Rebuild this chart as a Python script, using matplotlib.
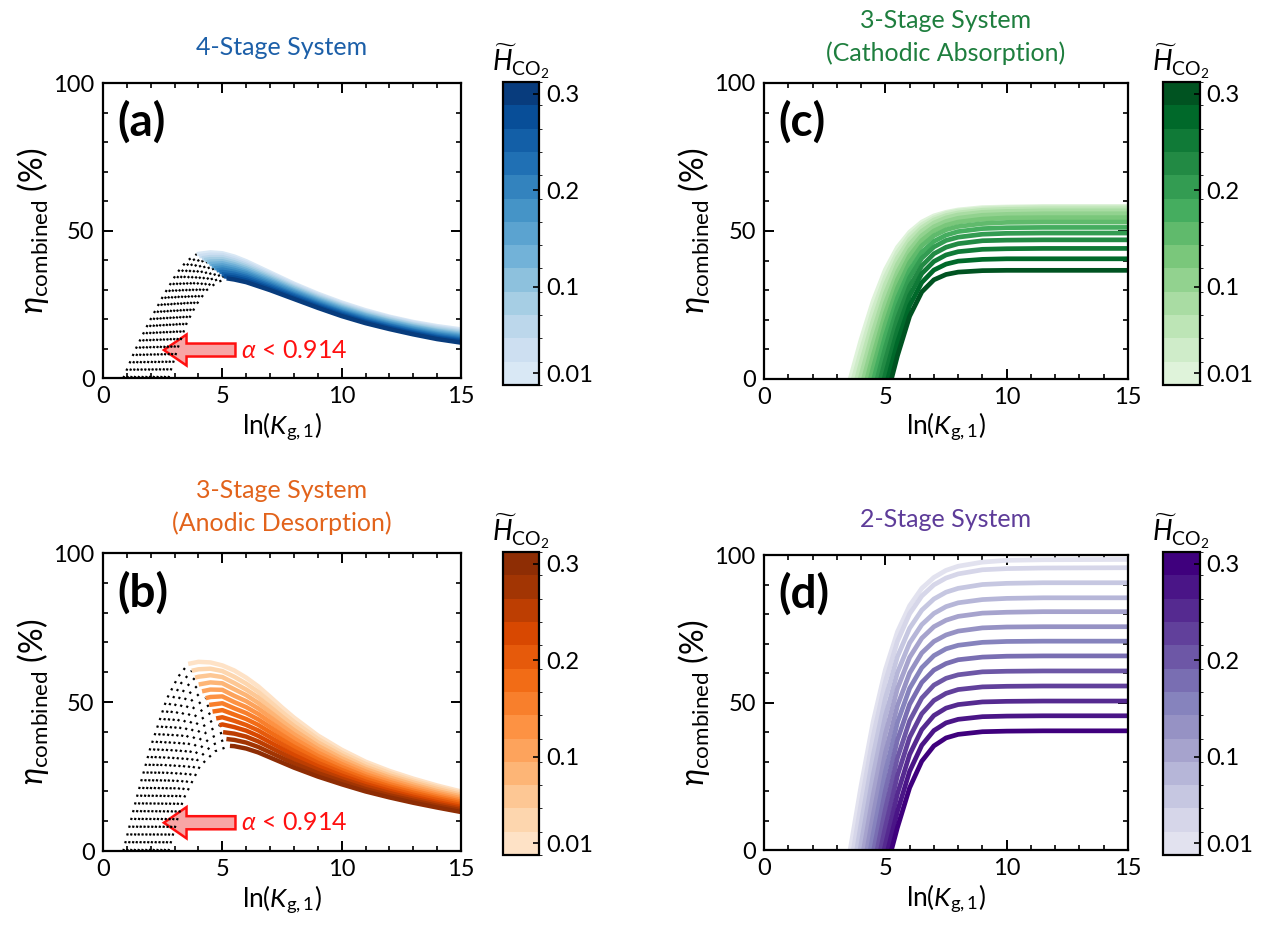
import numpy as np
import matplotlib
matplotlib.use('Agg')
import matplotlib.pyplot as plt
from matplotlib.colors import ListedColormap, BoundaryNorm
from matplotlib.cm import ScalarMappable
from matplotlib.ticker import MultipleLocator

plt.rcParams.update({
    'font.family': 'Lato',
    'mathtext.fontset': 'custom',
    'mathtext.rm': 'Lato',
    'mathtext.it': 'Lato:italic',
    'mathtext.bf': 'Lato:bold',
    'mathtext.fallback': 'stixsans',
    'font.size': 16,
    'axes.linewidth': 1.6,
})

nan = float('nan')

# dimensionless CO2 Henry constant, one curve per value
H_co2 = [0.01, 0.0342, 0.0583, 0.0825, 0.1067, 0.1308, 0.155,
         0.1792, 0.2033, 0.2275, 0.2517, 0.2758, 0.3]
cbar_ticks = [0.01, 0.1, 0.2, 0.3]
cbar_ticklabels = ['0.01', '0.1', '0.2', '0.3']

# ---- (a) 4-stage: dotted part (alpha < 0.914), last point = start of solid part
a_dot_x = [
    [0.85, 1.35, 1.90, 2.50, 3.09, 3.50, 3.93],
    [1.01, 1.50, 2.03, 2.62, 3.19, 3.60, 4.03],
    [1.17, 1.64, 2.17, 2.73, 3.30, 3.71, 4.14],
    [1.32, 1.79, 2.30, 2.85, 3.40, 3.81, 4.24],
    [1.48, 1.93, 2.43, 2.97, 3.51, 3.92, 4.35],
    [1.64, 2.08, 2.57, 3.08, 3.61, 4.02, 4.45],
    [1.80, 2.23, 2.70, 3.20, 3.72, 4.13, 4.55],
    [1.95, 2.37, 2.83, 3.32, 3.82, 4.23, 4.66],
    [2.11, 2.52, 2.97, 3.43, 3.92, 4.33, 4.76],
    [2.27, 2.66, 3.10, 3.55, 4.03, 4.44, 4.87],
    [2.43, 2.81, 3.23, 3.67, 4.13, 4.54, 4.97],
    [2.58, 2.95, 3.37, 3.78, 4.24, 4.65, 5.07],
    [2.74, 3.10, 3.50, 3.90, 4.34, 4.75, 5.18],
]
a_dot_y = [
    [0, 9.5, 18.5, 27.5, 35.5, 39.6, 42.0],
    [0, 9.5, 18.5, 27.3, 35.0, 39.0, 41.3],
    [0, 9.5, 18.5, 27.05, 34.55, 38.4, 40.6],
    [0, 9.5, 18.5, 26.8, 34.1, 37.8, 40.0],
    [0, 9.5, 18.5, 26.6, 33.6, 37.2, 39.3],
    [0, 9.5, 18.5, 26.4, 33.1, 36.6, 38.6],
    [0, 9.5, 18.5, 26.15, 32.65, 36.0, 37.9],
    [0, 9.5, 18.5, 25.9, 32.2, 35.35, 37.2],
    [0, 9.5, 18.5, 25.7, 31.7, 34.7, 36.5],
    [0, 9.5, 18.5, 25.5, 31.2, 34.1, 35.9],
    [0, 9.5, 18.5, 25.25, 30.75, 33.5, 35.2],
    [0, 9.5, 18.5, 25.0, 30.3, 32.9, 34.5],
    [0, 9.5, 18.5, 24.8, 29.8, 32.3, 33.8],
]
a_x = [4.5, 5.0, 5.5, 6, 7, 8, 9, 10, 11, 12, 13, 14, 15]
a_eta = [
    [42.6, 42.3, 41.2, 39.6, 35.8, 32.0, 28.6, 25.6, 23.0, 20.8, 19.0, 17.6, 16.5],
    [41.8, 41.7, 40.55, 39.0, 35.3, 31.6, 28.2, 25.2, 22.6, 20.5, 18.7, 17.2, 16.1],
    [41.0, 41.0, 39.9, 38.4, 34.8, 31.1, 27.8, 24.8, 22.3, 20.1, 18.3, 16.9, 15.75],
    [40.3, 40.3, 39.25, 37.8, 34.3, 30.7, 27.4, 24.5, 21.9, 19.8, 18.0, 16.5, 15.4],
    [39.5, 39.6, 38.6, 37.2, 33.8, 30.3, 27.0, 24.1, 21.5, 19.4, 17.6, 16.1, 15.0],
    [38.7, 38.9, 37.95, 36.6, 33.3, 29.8, 26.6, 23.7, 21.2, 19.1, 17.3, 15.8, 14.6],
    [nan, 38.2, 37.3, 36.0, 32.8, 29.4, 26.2, 23.3, 20.8, 18.7, 16.9, 15.4, 14.25],
    [nan, 37.5, 36.65, 35.5, 32.3, 29.0, 25.8, 22.9, 20.4, 18.4, 16.6, 15.0, 13.9],
    [nan, 36.8, 36.0, 34.9, 31.8, 28.5, 25.4, 22.5, 20.1, 18.0, 16.2, 14.7, 13.5],
    [nan, 36.0, 35.35, 34.3, 31.3, 28.1, 25.0, 22.2, 19.7, 17.7, 15.9, 14.3, 13.1],
    [nan, nan, 34.7, 33.7, 30.8, 27.7, 24.6, 21.8, 19.3, 17.3, 15.5, 13.9, 12.75],
    [nan, nan, 34.05, 33.1, 30.3, 27.2, 24.2, 21.4, 19.0, 17.0, 15.2, 13.6, 12.4],
    [nan, nan, 33.4, 32.5, 29.8, 26.8, 23.8, 21.0, 18.6, 16.6, 14.8, 13.2, 12.0],
]

# ---- (b) 3-stage, anodic desorption
b_dot_x = [
    [0.85, 1.40, 1.97, 2.67, 3.15, 3.57],
    [1.01, 1.54, 2.09, 2.79, 3.28, 3.72],
    [1.17, 1.68, 2.20, 2.90, 3.41, 3.86],
    [1.32, 1.81, 2.32, 3.02, 3.54, 4.01],
    [1.48, 1.95, 2.43, 3.13, 3.67, 4.15],
    [1.64, 2.09, 2.55, 3.25, 3.80, 4.30],
    [1.80, 2.23, 2.67, 3.37, 3.93, 4.45],
    [1.95, 2.36, 2.78, 3.48, 4.05, 4.59],
    [2.11, 2.50, 2.90, 3.60, 4.18, 4.74],
    [2.27, 2.64, 3.01, 3.71, 4.31, 4.88],
    [2.43, 2.78, 3.13, 3.83, 4.44, 5.03],
    [2.58, 2.91, 3.24, 3.94, 4.57, 5.17],
    [2.74, 3.05, 3.36, 4.06, 4.70, 5.32],
]
b_dot_y = [
    [0, 17.5, 34.2, 51.0, 58.5, 62.8],
    [0, 16.8, 32.8, 49.1, 56.4, 60.5],
    [0, 16.1, 31.4, 47.25, 54.3, 58.2],
    [0, 15.4, 30.0, 45.4, 52.25, 55.9],
    [0, 14.7, 28.6, 43.5, 50.2, 53.6],
    [0, 14.0, 27.2, 41.6, 48.1, 51.3],
    [0, 13.25, 25.75, 39.75, 46.0, 49.05],
    [0, 12.5, 24.3, 37.9, 43.9, 46.8],
    [0, 11.8, 22.9, 36.0, 41.8, 44.5],
    [0, 11.1, 21.5, 34.1, 39.75, 42.2],
    [0, 10.4, 20.1, 32.25, 37.7, 39.9],
    [0, 9.7, 18.7, 30.4, 35.6, 37.6],
    [0, 9.0, 17.3, 28.5, 33.5, 35.3],
]
b_x = [4.0, 4.5, 5.0, 5.5, 6.0, 6.5, 7.0, 7.5, 8, 9, 10, 11, 12, 13, 14, 15]
b_eta = [
    [63.5, 63.3, 62.3, 60.6, 58.2, 55.3, 51.8, 48.2, 44.8, 38.8, 34.0, 30.0, 26.9, 24.3, 22.0, 20.0],
    [61.0, 61.2, 60.4, 58.5, 56.2, 53.45, 50.1, 46.66, 43.4, 37.65, 33.0, 29.2, 26.2, 23.6, 21.4, 19.4],
    [58.5, 59.0, 58.4, 56.4, 54.2, 51.6, 48.4, 45.12, 42.0, 36.5, 32.1, 28.3, 25.4, 23.0, 20.8, 18.85],
    [nan, 56.6, 56.3, 54.3, 52.3, 49.75, 46.7, 43.57, 40.6, 35.35, 31.1, 27.5, 24.7, 22.3, 20.1, 18.3],
    [nan, 54.2, 54.1, 52.1, 50.3, 47.9, 45.0, 42.03, 39.2, 34.2, 30.1, 26.7, 23.9, 21.6, 19.5, 17.7],
    [nan, 51.7, 51.9, 50.0, 48.3, 46.05, 43.3, 40.49, 37.8, 33.05, 29.2, 25.8, 23.2, 20.9, 18.9, 17.1],
    [nan, nan, 49.6, 47.9, 46.3, 44.2, 41.6, 38.95, 36.4, 31.9, 28.2, 25.0, 22.45, 20.25, 18.3, 16.55],
    [nan, nan, 47.3, 45.8, 44.3, 42.35, 39.9, 37.41, 35.0, 30.75, 27.2, 24.2, 21.7, 19.6, 17.7, 16.0],
    [nan, nan, 44.9, 43.7, 42.3, 40.5, 38.2, 35.86, 33.6, 29.6, 26.3, 23.3, 21.0, 18.9, 17.1, 15.4],
    [nan, nan, 42.5, 41.6, 40.4, 38.65, 36.5, 34.32, 32.2, 28.45, 25.3, 22.5, 20.2, 18.2, 16.4, 14.8],
    [nan, nan, nan, 39.4, 38.4, 36.8, 34.8, 32.78, 30.8, 27.3, 24.3, 21.7, 19.5, 17.55, 15.8, 14.25],
    [nan, nan, nan, 37.3, 36.4, 34.95, 33.1, 31.24, 29.4, 26.15, 23.4, 20.8, 18.7, 16.9, 15.2, 13.7],
    [nan, nan, nan, 35.2, 34.4, 33.1, 31.4, 29.7, 28.0, 25.0, 22.4, 20.0, 18.0, 16.2, 14.6, 13.1],
]

# ---- (c) 3-stage, cathodic absorption  /  (d) 2-stage
cd_x = [4.0, 4.5, 5.0, 5.5, 6.0, 6.5, 7.0, 7.5, 8.0, 9.0, 10.0, 11.5, 15.0]
c_x0 = [3.55, 3.68, 3.82, 3.96, 4.10, 4.24, 4.38, 4.52, 4.66, 4.80, 4.95, 5.10, 5.25]
c_eta = [
    [13.3, 26.4, 36.9, 44.5, 49.6, 53.0, 55.1, 56.3, 57.1, 57.9, 58.1, 58.3, 58.3],
    [9.5, 23.3, 34.5, 42.8, 48.5, 52.1, 54.4, 55.9, 56.7, 57.5, 57.8, 58.0, 58.0],
    [5.5, 19.8, 31.9, 40.9, 47.1, 51.1, 53.7, 55.2, 56.1, 57.0, 57.3, 57.5, 57.5],
    [1.2, 16.1, 28.9, 38.7, 45.5, 49.9, 52.7, 54.4, 55.4, 56.3, 56.6, 56.8, 56.8],
    [nan, 12.1, 25.6, 36.1, 43.5, 48.4, 51.4, 53.2, 54.3, 55.3, 55.6, 55.8, 55.8],
    [nan, 8.0, 22.2, 33.6, 41.6, 46.8, 50.0, 51.9, 53.0, 54.0, 54.4, 54.5, 54.5],
    [nan, 3.8, 18.6, 30.7, 39.3, 45.0, 48.4, 50.4, 51.5, 52.5, 52.9, 53.0, 53.0],
    [nan, nan, 14.6, 27.4, 36.7, 42.8, 46.5, 48.6, 49.8, 50.8, 51.1, 51.2, 51.2],
    [nan, nan, 10.6, 24.2, 34.3, 40.8, 44.6, 46.8, 47.9, 48.9, 49.2, 49.3, 49.3],
    [nan, nan, 6.3, 20.6, 31.3, 38.2, 42.3, 44.5, 45.7, 46.7, 46.9, 47.0, 47.0],
    [nan, nan, 1.6, 16.6, 28.2, 35.6, 39.7, 41.9, 43.0, 43.8, 44.0, 44.1, 44.1],
    [nan, nan, nan, 12.4, 24.8, 32.6, 36.8, 38.8, 39.8, 40.4, 40.6, 40.6, 40.6],
    [nan, nan, nan, 7.9, 21.2, 29.4, 33.5, 35.3, 36.1, 36.6, 36.7, 36.7, 36.7],
]
d_x0 = [3.55, 3.68, 3.82, 3.96, 4.10, 4.24, 4.38, 4.52, 4.66, 4.80, 4.95, 5.10, 5.25]
d_eta = [
    [21.8, 43.6, 61.1, 74.0, 82.8, 88.7, 92.4, 94.8, 96.2, 97.6, 98.2, 98.4, 98.5],
    [15.8, 38.6, 57.1, 70.8, 80.1, 86.1, 89.9, 92.2, 93.6, 95.0, 95.4, 95.6, 95.7],
    [8.9, 32.1, 51.4, 65.6, 75.2, 81.3, 85.1, 87.4, 88.7, 90.0, 90.4, 90.6, 90.6],
    [2.0, 25.5, 45.4, 60.2, 70.2, 76.4, 80.2, 82.5, 83.8, 84.9, 85.3, 85.5, 85.5],
    [nan, 18.7, 39.3, 54.8, 65.3, 71.8, 75.7, 77.9, 79.2, 80.3, 80.6, 80.8, 80.8],
    [nan, 11.9, 32.9, 49.0, 60.0, 66.8, 70.7, 72.9, 74.2, 75.3, 75.6, 75.7, 75.7],
    [nan, 5.4, 26.5, 43.3, 54.8, 61.8, 65.9, 68.2, 69.4, 70.4, 70.7, 70.8, 70.8],
    [nan, nan, 20.1, 37.4, 49.4, 56.8, 61.0, 63.2, 64.5, 65.4, 65.7, 65.8, 65.8],
    [nan, nan, 13.8, 31.3, 43.8, 51.5, 55.9, 58.2, 59.4, 60.4, 60.6, 60.7, 60.7],
    [nan, nan, 7.7, 25.3, 38.2, 46.2, 50.7, 53.1, 54.4, 55.3, 55.5, 55.6, 55.6],
    [nan, nan, 1.8, 19.1, 32.4, 40.8, 45.6, 48.1, 49.3, 50.2, 50.4, 50.5, 50.5],
    [nan, nan, nan, 13.2, 26.7, 35.5, 40.5, 43.1, 44.3, 45.2, 45.4, 45.5, 45.5],
    [nan, nan, nan, 7.7, 21.1, 30.1, 35.3, 38.0, 39.2, 40.1, 40.3, 40.4, 40.4],
]

alpha_limit = 0.914

fig = plt.figure(figsize=(12.7, 9.3), dpi=100)

ax_a = fig.add_axes([0.0811, 0.5935, 0.2819, 0.3172])
ax_b = fig.add_axes([0.0811, 0.0849, 0.2819, 0.3204])
ax_c = fig.add_axes([0.6016, 0.5925, 0.2866, 0.3183])
ax_d = fig.add_axes([0.6016, 0.0860, 0.2866, 0.3172])
cax_pos = {'a': [0.3961, 0.586, 0.0283, 0.3258], 'b': [0.3961, 0.0806, 0.0283, 0.3258],
           'c': [0.9157, 0.586, 0.029, 0.3258], 'd': [0.9157, 0.0806, 0.029, 0.3258]}


def shades(name, lo=0.15, hi=0.95):
    return plt.get_cmap(name)(np.linspace(lo, hi, len(H_co2)))


def style(ax, tag):
    ax.set_xlim(0, 15)
    ax.set_ylim(0, 100)
    ax.xaxis.set_major_locator(MultipleLocator(5))
    ax.xaxis.set_minor_locator(MultipleLocator(1))
    ax.yaxis.set_major_locator(MultipleLocator(50))
    ax.yaxis.set_minor_locator(MultipleLocator(10))
    ax.tick_params(which='both', direction='in', top=True, right=True, labelsize=17)
    ax.tick_params(which='major', length=7, width=1.4, pad=6)
    ax.tick_params(which='minor', length=3.5, width=1.2)
    ax.set_xlabel(r'$\mathrm{ln}(K_{\mathrm{g,1}})$', fontsize=19, labelpad=2)
    ax.set_ylabel(r'$\eta_{\mathrm{combined}}$ (%)', fontsize=23, labelpad=2)
    ax.text(0.04, 0.94, tag, transform=ax.transAxes, ha='left', va='top',
            fontsize=33, fontweight='bold')


def colorbar(key, colors):
    cax = fig.add_axes(cax_pos[key])
    h = np.array(H_co2)
    edges = np.concatenate([[h[0] - (h[1] - h[0]) / 2], (h[1:] + h[:-1]) / 2,
                            [h[-1] + (h[-1] - h[-2]) / 2]])
    sm = ScalarMappable(norm=BoundaryNorm(edges, len(h)), cmap=ListedColormap(colors))
    cb = fig.colorbar(sm, cax=cax, ticks=cbar_ticks)
    cb.ax.set_yticklabels(cbar_ticklabels)
    cb.ax.tick_params(direction='in', length=4, width=1.2, labelsize=17, pad=5)
    cb.outline.set_linewidth(1.6)
    cax.set_title(r'$\widetilde{H}_{\mathrm{CO_2}}$', fontsize=20, pad=8)


def peaked(ax, dot_x, dot_y, grid, table, colors):
    for i in range(len(H_co2)):
        ax.plot(dot_x[i], dot_y[i], color='black', lw=1.6, dashes=(1, 2.6),
                dash_capstyle='butt')
    for i in range(len(H_co2)):
        xs = [dot_x[i][-1]] + [x for x, v in zip(grid, table[i]) if not np.isnan(v)]
        ys = [dot_y[i][-1]] + [v for v in table[i] if not np.isnan(v)]
        ax.plot(xs, ys, color=colors[i], lw=3.2, solid_capstyle='butt')
    # marker for the region below the alpha threshold
    ax.arrow(5.55, 9.5, -3.0, 0, width=4.4, head_width=10.5, head_length=0.95,
             length_includes_head=True, fc='#f8a5a5', ec='#ff1010', lw=1.8)
    ax.text(5.8, 9.5, r'$\alpha$ < ' + str(alpha_limit), color='#ff1010',
            fontsize=18, va='center', ha='left')


def rising(ax, x0, table, colors):
    for i in range(len(H_co2)):
        xs = [x0[i]] + [x for x, v in zip(cd_x, table[i]) if not np.isnan(v)]
        ys = [0] + [v for v in table[i] if not np.isnan(v)]
        ax.plot(xs, ys, color=colors[i], lw=3.4)


blues, oranges, greens, purples = (shades('Blues'), shades('Oranges'),
                                   shades('Greens'), shades('Purples', 0.2, 1.0))

peaked(ax_a, a_dot_x, a_dot_y, a_x, a_eta, blues)
peaked(ax_b, b_dot_x, b_dot_y, b_x, b_eta, oranges)
rising(ax_c, c_x0, c_eta, greens)
rising(ax_d, d_x0, d_eta, purples)

style(ax_a, '(a)')
style(ax_b, '(b)')
style(ax_c, '(c)')
style(ax_d, '(d)')

ttl = dict(fontsize=18, linespacing=1.45)
ax_a.set_title('4-Stage System', color='#1c5fa8', pad=20, **ttl)
ax_b.set_title('3-Stage System\n(Anodic Desorption)', color='#e2631b', pad=16, **ttl)
ax_c.set_title('3-Stage System\n(Cathodic Absorption)', color='#1e7e3e', pad=16, **ttl)
ax_d.set_title('2-Stage System', color='#5e3c99', pad=20, **ttl)

colorbar('a', blues)
colorbar('b', oranges)
colorbar('c', greens)
colorbar('d', purples)

fig.savefig('out.png', dpi=100)
